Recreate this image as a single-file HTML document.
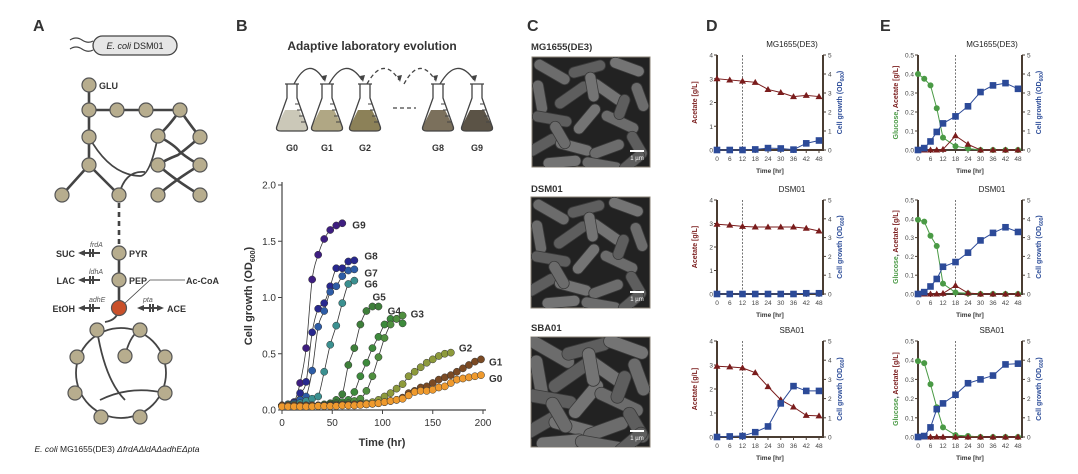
<!DOCTYPE html>
<html><head><meta charset="utf-8"><style>
html,body{margin:0;padding:0;background:#fff;}
svg{display:block;font-family:"Liberation Sans",sans-serif;}
</style></head><body>
<svg id="fig" width="1078" height="474" viewBox="0 0 1078 474" xmlns="http://www.w3.org/2000/svg">
<g font-size="16" font-weight="bold" fill="#333">
<text x="33" y="31">A</text>
<text x="236" y="31">B</text>
<text x="527" y="31">C</text>
<text x="706" y="31">D</text>
<text x="880" y="31">E</text>
</g>

<g id="panelA">
<path d="M70,40 q6,-4 12,0 t11,1 M70,49 q6,-4 12,0 t11,1" stroke="#444" stroke-width="1.2" fill="none"/>
<rect x="93" y="36" width="84" height="19" rx="9.5" fill="#e6e6e6" stroke="#444" stroke-width="1.3"/>
<text x="135" y="49" font-size="9" text-anchor="middle" fill="#222"><tspan font-style="italic">E. coli</tspan> DSM01</text>
<g stroke="#444" stroke-width="2.6" fill="none">
<path d="M89,85 V165 L62,195 M89,165 L119,195 M89,110 H180"/>
<path d="M180,110 Q170,125 158,136 M180,110 Q190,125 200,137 M158,136 Q175,145 180,152 Q190,160 200,165 M200,137 Q185,150 178,155 Q165,160 158,165 M158,165 Q175,180 200,195 M200,165 Q175,180 158,195"/>
<path d="M89,137 Q110,175 140,176 Q150,176 158,136" stroke-width="1.8"/>
<path d="M119,195 Q125,170 145,172" stroke-width="1.8"/>
<path d="M119,203 V245" stroke-dasharray="5,4"/>
<path d="M119,253 V308"/>
<path d="M119,308 Q118,320 105,322" stroke-width="1.8"/>
<circle cx="121" cy="373" r="45" stroke-width="1.8"/>
<path d="M97,330 Q105,380 125,400 M125,356 Q130,335 140,330 M100,400 Q130,385 165,393" stroke-width="1.8"/>
<path d="M82,253 H100 M82,280 H100 M82,308 H100 M140,308 H160" stroke-width="2"/>
</g>
<g fill="#444"><path d="M78,253 l7,-3 v6z M78,280 l7,-3 v6z M78,308 l7,-3 v6z M164,308 l-7,-3 v6z M137,308 l7,-3 v6z"/></g>
<g stroke="#444" stroke-width="2"><path d="M90,249 v8 M93,249 v8 M90,276 v8 M93,276 v8 M90,304 v8 M93,304 v8 M150,304 v8 M153,304 v8"/></g>
<path d="M125,303 L150,280 H185" stroke="#444" stroke-width="0.8" fill="none"/>
<g fill="#b7ad8e" stroke="#555" stroke-width="1.2">
<circle cx="89" cy="85" r="7"/><circle cx="89" cy="110" r="7"/><circle cx="117" cy="110" r="7"/><circle cx="146" cy="110" r="7"/><circle cx="180" cy="110" r="7"/>
<circle cx="89" cy="137" r="7"/><circle cx="158" cy="136" r="7"/><circle cx="200" cy="137" r="7"/>
<circle cx="89" cy="165" r="7"/><circle cx="158" cy="165" r="7"/><circle cx="200" cy="165" r="7"/>
<circle cx="62" cy="195" r="7"/><circle cx="119" cy="195" r="7"/><circle cx="158" cy="195" r="7"/><circle cx="200" cy="195" r="7"/>
<circle cx="119" cy="253" r="7"/><circle cx="119" cy="280" r="7"/>
<circle cx="97" cy="330" r="7"/><circle cx="140" cy="330" r="7"/><circle cx="77" cy="357" r="7"/><circle cx="125" cy="356" r="7"/><circle cx="165" cy="357" r="7"/>
<circle cx="75" cy="393" r="7"/><circle cx="165" cy="393" r="7"/><circle cx="101" cy="417" r="7"/><circle cx="140" cy="417" r="7"/>
</g>
<circle cx="119" cy="308" r="7.5" fill="#c9502a" stroke="#555" stroke-width="1.2"/>
<g font-size="9" font-weight="bold" fill="#333">
<text x="99" y="89">GLU</text><text x="129" y="257">PYR</text><text x="129" y="284">PEP</text>
<text x="186" y="284">Ac-CoA</text><text x="167" y="312">ACE</text>
<text x="75" y="257" text-anchor="end">SUC</text><text x="75" y="284" text-anchor="end">LAC</text><text x="75" y="312" text-anchor="end">EtOH</text>
</g>
<g font-size="7" font-style="italic" fill="#555">
<text x="90" y="247">frdA</text><text x="89" y="274">ldhA</text><text x="89" y="302">adhE</text><text x="143" y="302">pta</text>
</g>
<text x="117" y="452" font-size="8.5" text-anchor="middle" fill="#222"><tspan font-style="italic">E. coli</tspan> MG1655(DE3) <tspan font-style="italic">ΔfrdAΔldAΔadhEΔpta</tspan></text>
</g>

<g id="ale">
<text x="372" y="50" font-size="12" font-weight="bold" fill="#333" text-anchor="middle">Adaptive laboratory evolution</text>
</g>

<g id="chartB"></g>

<g id="panelC">
<g font-size="9.5" font-weight="bold" fill="#333">
<text x="531" y="50">MG1655(DE3)</text><text x="531" y="192">DSM01</text><text x="531" y="331">SBA01</text>
</g>
</g>

<g id="panelD"></g>
<g id="panelE"></g>
</svg>
<script>
// ---------- Panel B data ----------
const genNames = ["G0","G1","G2","G3","G4","G5","G6","G7","G8","G9"];
const g0T = [0,6,12,18,24,30,36,42,48,54,60,66,72,78,84,90,96,102,108,114,120,126,132,138,144,150,156,162,168,174,180,186,192,198];
const g0V = [0.03,0.03,0.03,0.03,0.03,0.03,0.035,0.035,0.035,0.035,0.04,0.04,0.04,0.045,0.05,0.055,0.06,0.07,0.08,0.09,0.1,0.13,0.16,0.17,0.17,0.18,0.2,0.21,0.24,0.27,0.28,0.29,0.3,0.31];
const g1T = [0,6,12,18,24,30,36,42,48,54,60,66,72,78,84,90,96,102,108,114,120,126,132,138,144,150,156,162,168,174,180,186,192,198];
const g1V = [0.04,0.04,0.04,0.04,0.04,0.04,0.04,0.04,0.04,0.04,0.045,0.045,0.05,0.05,0.05,0.055,0.06,0.07,0.08,0.09,0.11,0.15,0.17,0.2,0.21,0.24,0.27,0.29,0.31,0.34,0.37,0.4,0.43,0.45];
const g2T = [0,6,12,18,24,30,36,42,48,54,60,66,72,78,84,90,96,102,108,114,120,126,132,138,144,150,156,162,168];
const g2V = [0.04,0.04,0.04,0.04,0.04,0.04,0.04,0.04,0.04,0.045,0.05,0.05,0.05,0.055,0.06,0.07,0.09,0.12,0.15,0.19,0.23,0.3,0.34,0.38,0.42,0.45,0.48,0.5,0.51];
const g3T = [0,6,12,18,24,30,36,42,48,54,60,66,72,78,84,90,96,102,108,114,120];
const g3V = [0.04,0.04,0.04,0.04,0.04,0.04,0.04,0.04,0.045,0.05,0.05,0.06,0.08,0.1,0.17,0.3,0.47,0.64,0.76,0.81,0.84];
const g4T = [0,6,12,18,24,30,36,42,48,54,60,66,72,78,84,90,96,102,108,114,120];
const g4V = [0.04,0.04,0.04,0.04,0.04,0.04,0.04,0.04,0.05,0.06,0.07,0.09,0.16,0.3,0.42,0.55,0.65,0.76,0.81,0.81,0.77];
const g5T = [0,6,12,18,24,30,36,42,48,54,60,66,72,78,84,90,96];
const g5V = [0.04,0.04,0.04,0.04,0.04,0.04,0.04,0.05,0.06,0.09,0.14,0.4,0.55,0.76,0.88,0.92,0.92];
const g6T = [0,6,12,18,24,30,36,42,48,54,60,66,72];
const g6V = [0.04,0.05,0.05,0.06,0.08,0.1,0.12,0.34,0.58,0.75,0.95,1.12,1.15];
const g7T = [0,6,12,18,24,30,36,42,48,54,60,66,72];
const g7V = [0.04,0.05,0.06,0.09,0.12,0.35,0.74,0.88,1.05,1.1,1.19,1.24,1.25];
const g8T = [0,6,12,18,24,30,36,42,48,54,60,66,72];
const g8V = [0.04,0.05,0.07,0.15,0.25,0.69,0.9,0.95,1.1,1.26,1.26,1.32,1.33];
const g9T = [0,6,12,18,24,30,36,42,48,54,60];
const g9V = [0.04,0.05,0.07,0.24,0.55,1.16,1.38,1.52,1.6,1.64,1.66];
const bXTicks = [0,50,100,150,200];
const bYTicks = [0.0,0.5,1.0,1.5,2.0];

// ---------- Panel D data ----------
const dTimes = [0,6,12,18,24,30,36,42,48];
const dAcetateMG = [3.0,2.95,2.9,2.85,2.55,2.42,2.25,2.3,2.25];
const dGrowthMG = [0,0,0,0.03,0.1,0.08,0.02,0.35,0.5];
const dAcetateDSM = [2.97,2.93,2.88,2.85,2.85,2.85,2.85,2.8,2.68];
const dGrowthDSM = [0,0,0,0,0,0,0,0.04,0.04];
const dAcetateSBA = [2.95,2.92,2.88,2.68,2.1,1.55,1.25,0.9,0.88];
const dGrowthSBA = [0,0.03,0.05,0.25,0.55,1.75,2.65,2.4,2.4];

// ---------- Panel E data ----------
const eTimes = [0,3,6,9,12,18,24,30,36,42,48];
const eGlucoseMG = [0.4,0.375,0.34,0.22,0.065,0.02,0.008,0,0,0,0];
const eAcetateMG = [0,0,0,0,0.003,0.075,0.03,0,0,0,0];
const eGrowthMG = [0,0.1,0.45,0.95,1.4,1.77,2.3,3.05,3.4,3.52,3.22];
const eGlucoseDSM = [0.395,0.385,0.31,0.255,0.055,0.008,0.003,0,0,0,0];
const eAcetateDSM = [0,0,0,0,0.003,0.045,0.005,0,0,0,0];
const eGrowthDSM = [0,0.1,0.4,0.8,1.45,1.7,2.2,2.85,3.25,3.55,3.3];
const eGlucoseSBA = [0.395,0.385,0.275,0.155,0.05,0.01,0.005,0,0,0,0];
const eAcetateSBA = [0,0,0,0,0,0,0,0,0,0,0];
const eGrowthSBA = [0,0.05,0.5,1.45,1.75,2.2,2.8,3.0,3.2,3.78,3.82];
const timeTicks = [0,6,12,18,24,30,36,42,48];

const NS = "http://www.w3.org/2000/svg";
function mk(parent, tag, attrs, text){
  const e = document.createElementNS(NS, tag);
  for (const k in attrs) e.setAttribute(k, attrs[k]);
  if (text !== undefined) e.textContent = text;
  parent.appendChild(e);
  return e;
}
function smooth(pts){
  if (pts.length < 2) return "";
  let d = "M" + pts[0][0] + "," + pts[0][1];
  for (let i = 0; i < pts.length - 1; i++){
    const p0 = pts[Math.max(0,i-1)], p1 = pts[i], p2 = pts[i+1], p3 = pts[Math.min(pts.length-1,i+2)];
    const c1x = p1[0] + (p2[0]-p0[0])/6, c1y = p1[1] + (p2[1]-p0[1])/6;
    const c2x = p2[0] - (p3[0]-p1[0])/6, c2y = p2[1] - (p3[1]-p1[1])/6;
    d += " C" + c1x + "," + c1y + " " + c2x + "," + c2y + " " + p2[0] + "," + p2[1];
  }
  return d;
}

// ---------- ALE flasks ----------
(function(){
  const g = document.getElementById("ale");
  const fx = [292,327,365,438,477];
  const fcol = ["#cbc8b8","#b0a784","#8c8158","#7b705c","#5b5346"];
  const flab = ["G0","G1","G2","G8","G9"];
  for (let i = 0; i < fx.length; i++){
    const x = fx[i];
    const fl = mk(g, "g", {});
    
    
    mk(fl, "path", {d:`M${x-7},110 L${x+7},110 L${x+15},126 Q${x+17},131 ${x+11},131 L${x-11},131 Q${x-17},131 ${x-15},126 Z`, fill:fcol[i]});
    mk(fl, "path", {d:`M${x-5},84 L${x-5},98 L${x-15},126 Q${x-17},131 ${x-11},131 L${x+11},131 Q${x+17},131 ${x+15},126 L${x+5},98 L${x+5},84 M${x-7},84 H${x+7}`, fill:"none", stroke:"#444", "stroke-width":"1.3"});
    mk(fl, "path", {d:`M${x+3},104 h4 M${x+5},110 h4 M${x+7},116 h4 M${x+9},122 h4`, stroke:"#444", "stroke-width":"1"});
    mk(fl, "text", {x:x, y:151, "font-size":"9", "font-weight":"bold", fill:"#333", "text-anchor":"middle"}, flab[i]);
  }
  const arcs = [[292,327,false],[327,365,false],[365,402,true],[402,438,true],[438,477,false]];
  for (const a of arcs){
    const x1 = a[0]+2, x2 = a[1]-3;
    const p = mk(g, "path", {d:`M${x1},84 Q${(x1+x2)/2},55 ${x2},80`, fill:"none", stroke:"#444", "stroke-width":"1.3", "stroke-dasharray": a[2] ? "4,3" : "none"});
    
    
    mk(g, "path", {d:`M${x2-2},76 L${x2+1},82 L${x2+3},75 Z`, fill:"#444"});
  }
  mk(g, "path", {d:"M393,108 H416", stroke:"#444", "stroke-width":"1.3", "stroke-dasharray":"4,3"});
})();

// ---------- Panel B chart ----------
(function(){
  const g = document.getElementById("chartB");
  const sx = t => 282 + t * 1.005;
  const sy = v => 410 - v * 112.5;
  const ax = mk(g, "path", {d:`M282,182 V410 H486`, fill:"none", stroke:"#444", "stroke-width":"1.2"});
  
  
  for (const t of bXTicks){
    mk(g, "line", {x1:sx(t), x2:sx(t), y1:410, y2:414, stroke:"#444"});
    const tl = mk(g, "text", {x:sx(t), y:426, "font-size":"10", fill:"#333", "text-anchor":"middle"}, String(t));
    
    
  }
  for (const v of bYTicks){
    mk(g, "line", {x1:278, x2:282, y1:sy(v), y2:sy(v), stroke:"#444"});
    const tl = mk(g, "text", {x:276, y:sy(v)+3.5, "font-size":"10", fill:"#333", "text-anchor":"end"}, v.toFixed(1));
    
    
  }
  const xt = mk(g, "text", {x:382, y:446, "font-size":"11", "font-weight":"bold", fill:"#333", "text-anchor":"middle"}, "Time (hr)");
  
  
  const yt = mk(g, "text", {x:0, y:0, "font-size":"11", "font-weight":"bold", fill:"#333", "text-anchor":"middle", transform:"translate(252,296) rotate(-90)"});
  
  
  yt.innerHTML = 'Cell growth (OD<tspan font-size="7" dy="3">600</tspan><tspan dy="-3">)</tspan>';

  const series = [[g0T,g0V],[g1T,g1V],[g2T,g2V],[g3T,g3V],[g4T,g4V],[g5T,g5V],[g6T,g6V],[g7T,g7V],[g8T,g8V],[g9T,g9V]];
  const cols = ["#ef9a2e","#7a4a24","#8d9a3c","#4f8f3f","#3d8a3c","#3e7f3a","#3b9090","#2d5ca6","#28288e","#3e1e80"];
  const labOff = [[8,4],[8,3],[8,-4],[8,-1],[-15,-12],[-6,-9],[10,4],[10,4],[10,-4],[10,2]];
  for (let s = series.length - 1; s >= 0; s--){
    const T = series[s][0], V = series[s][1];
    const pts = T.map((t,i) => [sx(t), sy(V[i])]);
    const ln = mk(g, "path", {d:smooth(pts), fill:"none", stroke:"#333", "stroke-width":"0.8"});
    
    
  }
  for (let s = series.length - 1; s >= 0; s--){
    const T = series[s][0], V = series[s][1];
    for (let i = 0; i < T.length; i++){
      const c = mk(g, "circle", {cx:sx(T[i]), cy:sy(V[i]), r:3.6, fill:cols[s], stroke:"#333", "stroke-width":"0.5"});
      
      
    }
    const lt = T[T.length-1], lv = V[V.length-1];
    const lab = mk(g, "text", {x:sx(lt)+labOff[s][0], y:sy(lv)+labOff[s][1]+3, "font-size":"10", "font-weight":"bold", fill:"#333"}, genNames[s]);
    
    
  }
})();

// ---------- Panel C SEM images ----------
(function(){
  const g = document.getElementById("panelC");
  const boxes = [[532,57,118,110],[531,197,119,111],[531,337,119,110]];
  const rods = [[20,15,40,30],[55,12,38,-15],[95,10,36,20],[8,40,34,80],[40,38,40,-35],[75,35,38,35],[108,40,30,70],
    [20,62,40,10],[55,62,36,-50],[88,65,40,25],[10,88,34,-30],[42,90,38,15],[75,92,36,-20],[105,88,30,60],
    [30,105,38,-5],[70,108,40,10],[100,105,30,-40],[60,30,30,80],[28,78,30,60],[90,50,26,-70]];
  boxes.forEach((b, k) => {
    const img = mk(g, "g", {});
    
    
    mk(img, "clipPath", {id:"clip"+k}).appendChild(Object.assign(document.createElementNS(NS,"rect"),{}));
    const cp = img.lastChild.firstChild;
    cp.setAttribute("x", b[0]); cp.setAttribute("y", b[1]); cp.setAttribute("width", b[2]); cp.setAttribute("height", b[3]);
    mk(img, "rect", {x:b[0], y:b[1], width:b[2], height:b[3], fill:"#222", stroke:"#8a8275", "stroke-width":"1"});
    const rg = mk(img, "g", {"clip-path":`url(#clip${k})`});
    rods.forEach((r, j) => {
      const cx = b[0] + r[0], cy = b[1] + r[1];
      const len = r[2] * (k === 2 ? 1.3 : 1);
      const w = k === 2 ? 13 : 11;
      mk(rg, "rect", {x:cx - len/2, y:cy - w/2, width:len, height:w, rx:w/2, fill: j%3===0 ? "#6c6c6c" : (j%3===1 ? "#5e5e5e" : "#747474"), stroke:"#3a3a3a", "stroke-width":"0.8", transform:`rotate(${r[3]} ${cx} ${cy})`});
    });
    mk(img, "line", {x1:b[0]+b[2]-20, x2:b[0]+b[2]-6, y1:b[1]+b[3]-16, y2:b[1]+b[3]-16, stroke:"#fff", "stroke-width":"2"});
    mk(img, "text", {x:b[0]+b[2]-13, y:b[1]+b[3]-7, "font-size":"6", fill:"#fff", "text-anchor":"middle"}, "1 µm");
  });
})();

// ---------- Panels D & E ----------
function dualPanel(gid, cfg){
  const root = document.getElementById(gid);
  const g = mk(root, "g", {});
  
  
  const L = cfg.left, R = cfg.right, X48 = cfg.x48, T = cfg.top, B = cfg.bot;
  const sx = t => L + t * (X48 - L) / 48;
  const syL = v => B - v * (B - T) / cfg.lMax;
  const syR = v => B - v * (B - T) / 5;
  mk(g, "text", {x:cfg.titleX, y:T-8, "font-size":"8", fill:"#222", "text-anchor":"middle"}, cfg.title);
  mk(g, "line", {x1:sx(cfg.dash), x2:sx(cfg.dash), y1:T, y2:B, stroke:"#555", "stroke-width":"0.8", "stroke-dasharray":"2,1.5"});
  mk(g, "path", {d:`M${L},${T} V${B} H${R} V${T}`, fill:"none", stroke:"#4a3d33", "stroke-width":"2"});
  for (const t of timeTicks){
    mk(g, "line", {x1:sx(t), x2:sx(t), y1:B, y2:B+3, stroke:"#4a3d33"});
    mk(g, "text", {x:sx(t), y:B+11, "font-size":"6.5", fill:"#444", "text-anchor":"middle"}, String(t));
  }
  for (const v of cfg.lTicks){
    mk(g, "line", {x1:L-3, x2:L, y1:syL(v), y2:syL(v), stroke:"#4a3d33"});
    mk(g, "text", {x:L-4, y:syL(v)+2.5, "font-size":"6.5", fill:"#444", "text-anchor":"end"}, cfg.lFmt(v));
  }
  for (let v = 0; v <= 5; v++){
    mk(g, "line", {x1:R, x2:R+3, y1:syR(v), y2:syR(v), stroke:"#4a3d33"});
    mk(g, "text", {x:R+5, y:syR(v)+2.5, "font-size":"6.5", fill:"#444"}, String(v));
  }
  mk(g, "text", {x:(L+R)/2, y:B+23, "font-size":"6.5", "font-weight":"bold", fill:"#333", "text-anchor":"middle"}, "Time [hr]");
  const lt = mk(g, "text", {x:0, y:0, "font-size":"7", "font-weight":"bold", "text-anchor":"middle", transform:`translate(${L-20},${(T+B)/2}) rotate(-90)`});
  lt.innerHTML = cfg.lLabel;
  const rt = mk(g, "text", {x:0, y:0, "font-size":"7", "font-weight":"bold", fill:"#2f4f9a", "text-anchor":"middle", transform:`translate(${R+19},${(T+B)/2}) rotate(-90)`});
  rt.innerHTML = 'Cell growth (OD<tspan font-size="5" dy="2">600</tspan><tspan dy="-2">)</tspan>';
  function series(times, vals, sy, col, shape, nm){
    const pts = times.map((t,i) => [sx(t), sy(vals[i])]);
    const ln = mk(g, "polyline", {points:pts.map(p=>p.join(",")).join(" "), fill:"none", stroke:col, "stroke-width":"1"});
    
    
    pts.forEach(p => {
      let m;
      if (shape === "sq") m = mk(g, "rect", {x:p[0]-3.3, y:p[1]-3.3, width:6.6, height:6.6, fill:col});
      else if (shape === "tri") m = mk(g, "path", {d:`M${p[0]},${p[1]-3.5} L${p[0]+3.5},${p[1]+2.5} L${p[0]-3.5},${p[1]+2.5} Z`, fill:col});
      else m = mk(g, "circle", {cx:p[0], cy:p[1], r:3, fill:col});
      
      
    });
  }
  if (cfg.glucose) series(cfg.times, cfg.glucose, syL, "#4a9a45", "circ", "glucose");
  series(cfg.times, cfg.acetate, syL, "#7a1c1c", "tri", "acetate");
  series(cfg.times, cfg.growth, syR, "#2c4a98", "sq", "cell-growth");
}
const rowsY = [[55,150],[200,294],[341,437]];
const dAc = [dAcetateMG, dAcetateDSM, dAcetateSBA];
const dGr = [dGrowthMG, dGrowthDSM, dGrowthSBA];
const eGl = [eGlucoseMG, eGlucoseDSM, eGlucoseSBA];
const eAc = [eAcetateMG, eAcetateDSM, eAcetateSBA];
const eGr = [eGrowthMG, eGrowthDSM, eGrowthSBA];
const titles = ["MG1655(DE3)","DSM01","SBA01"];
for (let i = 0; i < 3; i++){
  dualPanel("panelD", {name:"acetate-chart-" + titles[i].toLowerCase().replace(/[()]/g,""), left:717, right:823, x48:819, top:rowsY[i][0], bot:rowsY[i][1],
    lMax:4, lTicks:[0,1,2,3,4], lFmt:v=>String(v), title:titles[i], titleX:792, dash:12, times:dTimes,
    acetate:dAc[i], growth:dGr[i], lLabel:'<tspan fill="#7a1c1c">Acetate [g/L]</tspan>'});
  dualPanel("panelE", {name:"glucose-chart-" + titles[i].toLowerCase().replace(/[()]/g,""), left:918, right:1022, x48:1018, top:rowsY[i][0], bot:rowsY[i][1],
    lMax:0.5, lTicks:[0,0.1,0.2,0.3,0.4,0.5], lFmt:v=>v.toFixed(1), title:titles[i], titleX:992, dash:18, times:eTimes,
    glucose:eGl[i], acetate:eAc[i], growth:eGr[i], lLabel:'<tspan fill="#4a9a45">Glucose</tspan><tspan fill="#333">, </tspan><tspan fill="#7a1c1c">Acetate [g/L]</tspan>'});
}
</script>
</body></html>
